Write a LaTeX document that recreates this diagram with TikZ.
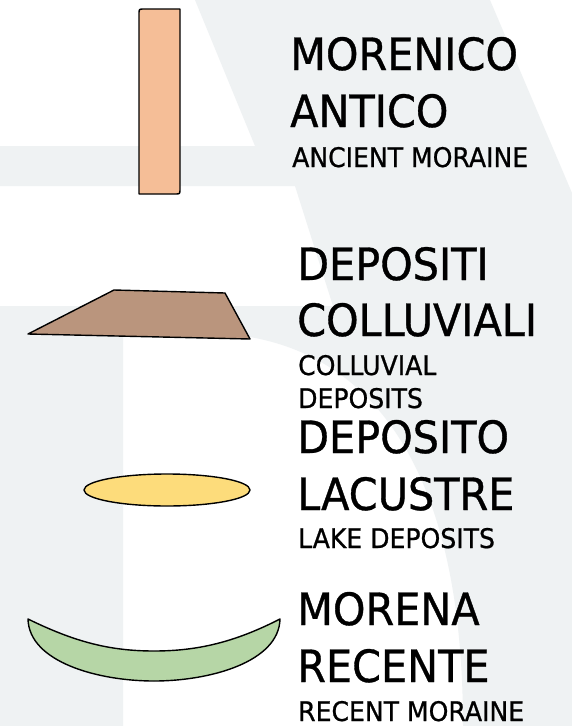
\documentclass[tikz,border=0pt]{standalone}
\usepackage{fontspec}
\setmainfont{DejaVu Sans}
\newfontfamily\labelfont[FakeStretch=0.93, FakeBold=0.8]{DejaVu Sans}
\definecolor{wmgrey}{RGB}{239,242,243}
\definecolor{peach}{RGB}{245,190,151}
\definecolor{brownfill}{RGB}{186,149,125}
\definecolor{yellowfill}{RGB}{253,220,123}
\definecolor{greenfill}{RGB}{182,214,166}
\tikzset{
  layer/.style={draw=black, line width=1.4pt, line join=round},
  bigtxt/.style={anchor=base west, inner sep=0pt, font=\labelfont\fontsize{44.5}{44.5}\selectfont},
  smalltxt/.style={anchor=base west, inner sep=0pt, font=\labelfont\fontsize{27}{27}\selectfont}
}
\begin{document}
\begin{tikzpicture}[x=1pt,y=-1pt]
\useasboundingbox (0,0) rectangle (572,726);
\fill[white] (0,0) rectangle (572,726);
% watermark
\fill[wmgrey] (195,0) -- (490,0) -- (572,193) -- (572,726) -- (463,726)
  .. controls (463,480) and (380,360) .. (250,337)
  -- (123,337) -- (123,726) -- (0,726) -- (0,306) -- (333,306)
  -- (295,186) -- (0,186) -- (0,146) -- (255,146) -- cycle;
% ancient moraine column
\filldraw[layer, fill=peach] (139,194) -- (139,14) .. controls (139,9) .. (144,9)
  -- (180,9) -- (180,189) .. controls (180,194) .. (175,194) -- cycle;
% colluvial deposits
\filldraw[layer, fill=brownfill] (28,334) -- (114,290) -- (225,293) -- (250,339) -- cycle;
% lake deposits
\filldraw[layer, fill=yellowfill] (167,490) ellipse [x radius=83, y radius=16];
% recent moraine
\filldraw[layer, fill=greenfill] (28,619) .. controls (75,642) and (110,651) .. (154,651)
  .. controls (198,651) and (235,642) .. (280,619)
  .. controls (279,662) and (210,681) .. (154,681)
  .. controls (98,681) and (29,662) .. (28,619) -- cycle;
% labels
\node[bigtxt] (t1a) at (290,70) {MORENICO};
\node[bigtxt] (t1b) at (290,127) {ANTICO};
\node[smalltxt] (t1c) at (292,167) {ANCIENT MORAINE};
\node[bigtxt] (t2a) at (297,280) {DEPOSITI};
\node[bigtxt] (t2b) at (297,336) {COLLUVIALI};
\node[smalltxt] (t2c) at (298,375) {COLLUVIAL};
\node[smalltxt] (t2d) at (298,408) {DEPOSITS};
\node[bigtxt] (t3a) at (297,453) {DEPOSITO};
\node[bigtxt] (t3b) at (297,510) {LACUSTRE};
\node[smalltxt] (t3c) at (298,548) {LAKE DEPOSITS};
\node[bigtxt] (t4a) at (297,625) {MORENA};
\node[bigtxt] (t4b) at (297,682) {RECENTE};
\node[smalltxt] (t4c) at (298,721) {RECENT MORAINE};
\end{tikzpicture}
\end{document}
